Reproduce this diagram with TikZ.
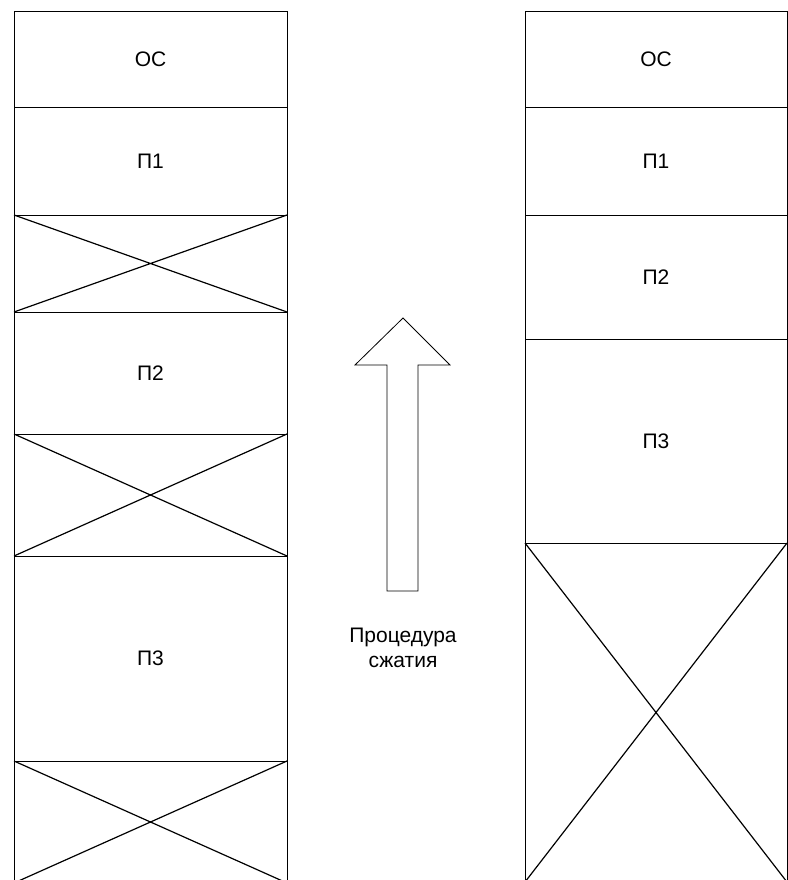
\documentclass[tikz,border=0pt]{standalone}
\usepackage{fontspec}
\setmainfont{Liberation Sans}
\usetikzlibrary{positioning}

\begin{document}
\begin{tikzpicture}[x=1pt, y=-1pt,
        cell/.style={draw, rectangle, line width=0.8pt, inner sep=0pt,
            outer sep=0pt, font=\fontsize{21}{25}\selectfont},
        lcell/.style={cell, minimum width=273pt},
        rcell/.style={cell, minimum width=262pt},
        cross/.style={line width=1.2pt},
    ]
        \useasboundingbox (0,0) rectangle (787,880);

        % memory before compaction
        \node[lcell, minimum height=96pt] (la) at (150.5,59) {ОС};
        \node[lcell, minimum height=108pt, below=0pt of la] (lb) {П1};
        \node[lcell, minimum height=97pt, below=0pt of lb] (lc) {};
        \node[lcell, minimum height=122pt, below=0pt of lc] (ld) {П2};
        \node[lcell, minimum height=122pt, below=0pt of ld] (le) {};
        \node[lcell, minimum height=205pt, below=0pt of le] (lf) {П3};
        \node[lcell, minimum height=122pt, below=0pt of lf] (lg) {};

        % memory after compaction
        \node[rcell, minimum height=96pt] (ra) at (656,59) {ОС};
        \node[rcell, minimum height=108pt, below=0pt of ra] (rb) {П1};
        \node[rcell, minimum height=124pt, below=0pt of rb] (rc) {П2};
        \node[rcell, minimum height=204pt, below=0pt of rc] (rd) {П3};
        \node[rcell, minimum height=339pt, below=0pt of rd] (re) {};

        % free areas
        \foreach \f in {lc, le, lg, re}
            \draw[cross] (\f.north west) -- (\f.south east)
                (\f.south west) -- (\f.north east);

        % arrow
        \draw[line width=0.8pt] (387,591) -- (387,365) -- (355,365) -- (403,318)
            -- (450,365) -- (418,365) -- (418,591) -- cycle;
        \node[font=\fontsize{21}{25}\selectfont, align=center] (txt) at (403,648)
            {Процедура\\сжатия};
    \end{tikzpicture}
\end{document}
